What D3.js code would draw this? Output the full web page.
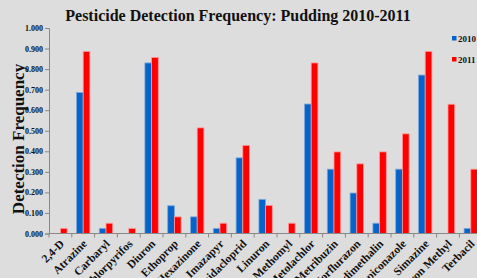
<!DOCTYPE html>
<html><head><meta charset="utf-8">
<script src="https://cdn.jsdelivr.net/npm/d3@7"></script>
<style>
html,body{margin:0;padding:0;background:#dddddd;overflow:hidden}
svg{display:block}
text{font-family:"Liberation Serif","Times New Roman",serif;font-weight:bold;fill:#111}
</style></head><body>
<svg id="chart" width="477" height="278"></svg>
<script>
const categories = ["2,4-D","Atrazine","Carbaryl","Chlorpyrifos","Diuron","Ethoprop","Hexazinone","Imazapyr","Imidacloprid","Linuron","Methomyl","Metolachlor","Metribuzin","Norflurazon","Pendimethalin","Propiconazole","Simazine","Thifensulfuron Methyl","Terbacil"];
const seriesNames = ["2010","2011"];
const values2010 = [0,0.686,0.025,0,0.830,0.135,0.081,0.025,0.368,0.166,0,0.630,0.313,0.197,0.050,0.313,0.771,0,0.025];
const values2011 = [0.025,0.886,0.050,0.025,0.857,0.081,0.514,0.050,0.429,0.137,0.050,0.830,0.397,0.339,0.397,0.485,0.886,0.629,0.313];
const yTicks = [0,0.1,0.2,0.3,0.4,0.5,0.6,0.7,0.8,0.9,1.0];
const colors = ["#0563c9","#ff0000"];
const outlines = ["#7ea9dd","#ff9a9a"];

(function(){
const svg = d3.select("#chart");
const mLeft = 49, mTop = 28, mBottom = 233.5, bandW = 22.8;
const mRight = mLeft + bandW*categories.length;

const x = d3.scaleBand().domain(categories).range([mLeft, mRight]).paddingInner(0).paddingOuter(0);
const x1 = d3.scaleBand().domain(seriesNames).range([bandW*0.5-6.7, bandW*0.5+6.7]);
const y = d3.scaleLinear().domain([0,1]).range([mBottom, mTop]);

const yAxis = d3.axisLeft(y).tickValues(yTicks).tickFormat(d3.format(".3f")).tickSize(4).tickPadding(2);
const gy = svg.append("g").attr("transform",`translate(${mLeft},0)`).call(yAxis);
gy.selectAll("path,line").attr("stroke","#888").attr("stroke-width",1);
gy.selectAll("text").style("font-size","8px").style("font-family","'Liberation Serif',serif").style("font-weight","bold").attr("fill","#111");

const data = [values2010, values2011];
data.forEach((vals, si) => {
  svg.append("g").selectAll("rect").data(categories).join("rect")
    .attr("x", (c) => x(c) + x1(seriesNames[si]))
    .attr("width", x1.bandwidth())
    .attr("y", (c,i) => y(vals[i]))
    .attr("height", (c,i) => mBottom - y(vals[i]))
    .attr("fill", colors[si])
    .attr("stroke", (c,i) => vals[i] > 0 ? outlines[si] : "none")
    .attr("stroke-width", 0.8);
});

const gx = svg.append("g").attr("transform",`translate(0,${mBottom})`);
gx.append("line").attr("x1",mLeft).attr("x2",mRight).attr("stroke","#888");
gx.selectAll("line.tk").data(d3.range(categories.length+1)).join("line").attr("class","tk")
  .attr("x1",i=>mLeft+i*bandW).attr("x2",i=>mLeft+i*bandW).attr("y1",0).attr("y2",4).attr("stroke","#888");
gx.selectAll("text").data(categories).join("text")
  .attr("transform", c => `translate(${x(c)+bandW/2+4.5},${11}) rotate(-45)`)
  .attr("text-anchor","end")
  .style("font-size","11.5px")
  .text(c=>c);

svg.append("text").attr("x",238).attr("y",21).attr("text-anchor","middle").style("font-size","16px").text("Pesticide Detection Frequency: Pudding 2010-2011");

svg.append("text").attr("transform","translate(24,139) rotate(-90)").attr("text-anchor","middle").style("font-size","17px").text("Detection Frequency");

const lg = svg.append("g");
seriesNames.forEach((s,i)=>{
  lg.append("rect").attr("x",452).attr("y",36+i*21).attr("width",4.5).attr("height",4.5).attr("fill",colors[i]);
  lg.append("text").attr("x",458).attr("y",41.5+i*21).style("font-size","9px").text(s);
});
})();
</script>
</body></html>
